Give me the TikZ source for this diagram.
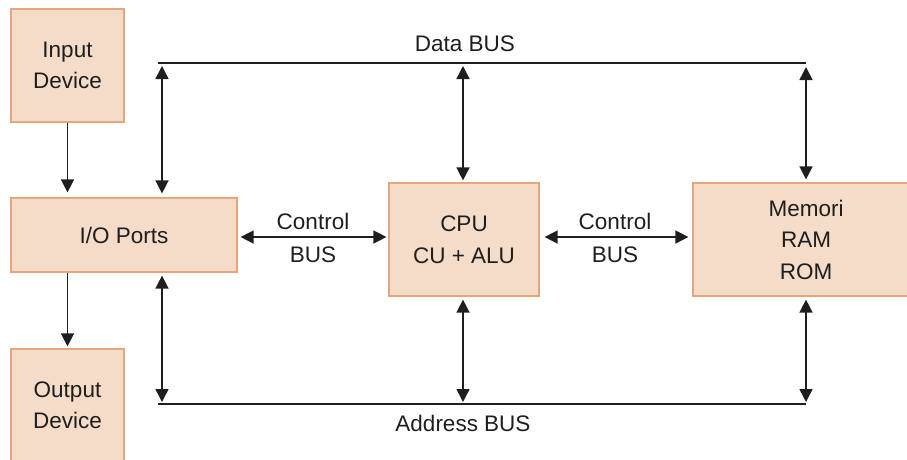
\documentclass[tikz,border=0pt]{standalone}
\usepackage{fontspec}
\setmainfont{Liberation Sans}
\usetikzlibrary{arrows.meta}
\definecolor{boxfill}{HTML}{F5DCC8}
\definecolor{boxline}{HTML}{E6A67C}
\definecolor{ink}{HTML}{1E1E1E}
\begin{document}
\begin{tikzpicture}[x=1pt,y=-1pt,
  box/.style={draw=boxline,fill=boxfill,line width=1.2pt,inner sep=0pt,align=center,
    font=\fontsize{22.5}{31.5}\selectfont,text=ink},
  lbl/.style={font=\fontsize{22.5}{31.5}\selectfont,text=ink,inner sep=0pt},
  bus/.style={draw=ink,line width=1.5pt},
  arr/.style={draw=ink,line width=1.5pt,-{Triangle[length=13pt,width=13pt]}},
  darr/.style={draw=ink,line width=1.5pt,{Triangle[length=13pt,width=13pt]}-{Triangle[length=13pt,width=13pt]}}]
\useasboundingbox (0,0) rectangle (907,459);
\begin{scope}
\clip (0,0) rectangle (907,459);
\node[box,minimum width=113pt,minimum height=113pt] (in) at (67.5,65.5) {Input\\Device};
\node[box,minimum width=226pt,minimum height=74pt] (io) at (124,235) {I/O Ports};
\node[box,minimum width=113pt,minimum height=112pt] (out) at (67.5,405) {Output\\Device};
\node[box,minimum width=150pt,minimum height=113pt] (cpu) at (464,239.5) {CPU\\CU + ALU};
\node[box,minimum width=226pt,minimum height=113pt] (mem) at (806,239.5) {Memori\\RAM\\ROM};
\end{scope}
% buses
\coordinate (d1) at (158,63);
\coordinate (d2) at (806,63);
\coordinate (a1) at (158,404);
\coordinate (a2) at (806,404);
\draw[bus] (d1) -- (d2);
\draw[bus] (a1) -- (a2);
\node[lbl,anchor=base] (dl) at (465,51) {Data BUS};
\node[lbl,anchor=base] (al) at (463,431) {Address BUS};
% coordinates on buses
\coordinate (dio) at (162,63);
\coordinate (dcpu) at (463,63);
\coordinate (aio) at (162,404);
\coordinate (acpu) at (463,404);
% vertical bus arrows
\draw[darr,shorten <=3pt,shorten >=4pt] (dio) -- (dio |- io.north);
\draw[darr,shorten <=3pt,shorten >=2pt] (dcpu) -- (dcpu |- cpu.north);
\draw[darr,shorten <=4pt,shorten >=3pt] (d2) -- (d2 |- mem.north);
\draw[darr,shorten <=3pt,shorten >=2pt] (aio |- io.south) -- (aio);
\draw[darr,shorten <=3pt,shorten >=2pt] (acpu |- cpu.south) -- (acpu);
\draw[darr,shorten <=3pt,shorten >=2pt] (a2 |- mem.south) -- (a2);
% device arrows
\draw[arr,shorten >=5pt] (in.south) -- (io.north -| in.south);
\draw[arr,shorten >=2pt] (io.south -| out.north) -- (out.north);
% control buses
\draw[darr,shorten <=3pt,shorten >=2pt] (io.east |- 0,237) -- (cpu.west |- 0,237);
\draw[darr,shorten <=5pt,shorten >=4pt] (cpu.east |- 0,237) -- (mem.west |- 0,237);
\node[lbl,anchor=base] (c1a) at (313,229) {Control};
\node[lbl,anchor=base] (c1b) at (313,262) {BUS};
\node[lbl,anchor=base] (c2a) at (615,229) {Control};
\node[lbl,anchor=base] (c2b) at (615,262) {BUS};
\end{tikzpicture}
\end{document}
